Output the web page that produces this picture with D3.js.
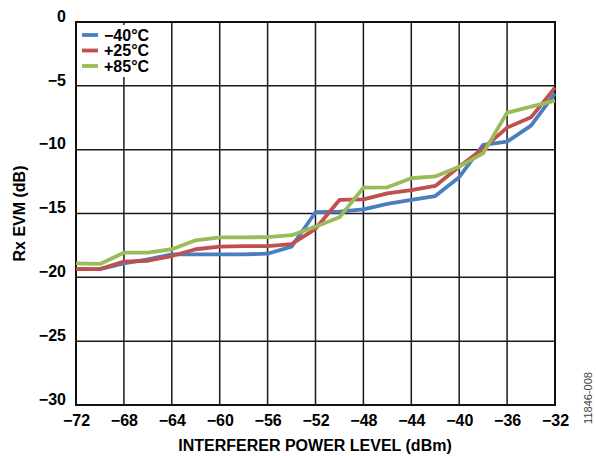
<!DOCTYPE html>
<html>
<head>
<meta charset="utf-8">
<script src="https://cdn.jsdelivr.net/npm/d3@7"></script>
<style>
  body { margin: 0; background: #fff; }
  svg text { font-family: "Liberation Sans", Arial, sans-serif; }
</style>
</head>
<body>
<svg id="chart" width="596" height="456"></svg>
<script>
// interferer power (dBm), one point every 2 dBm
const power = [-72, -70, -68, -66, -64, -62, -60, -58, -56, -54, -52, -50, -48, -46, -44, -42, -40, -38, -36, -34, -32];
const evmMinus40 = [-19.35, -19.35, -18.9, -18.6, -18.2, -18.2, -18.2, -18.2, -18.15, -17.6, -14.9, -14.85, -14.67, -14.25, -13.94, -13.63, -12.16, -9.63, -9.37, -8.12, -5.59];
const evmPlus25 = [-19.35, -19.35, -18.77, -18.7, -18.33, -17.8, -17.6, -17.55, -17.55, -17.4, -16.2, -13.94, -13.9, -13.42, -13.16, -12.84, -11.33, -9.9, -8.27, -7.47, -5.14];
const evmPlus85 = [-18.9, -18.95, -18.07, -18.07, -17.8, -17.1, -16.87, -16.87, -16.85, -16.7, -16.03, -15.3, -12.97, -12.95, -12.24, -12.1, -11.33, -10.28, -7.1, -6.63, -6.16];

const seriesNames = ["\u221240\u00b0C", "+25\u00b0C", "+85\u00b0C"];
const seriesColors = ["#4a7ebf", "#c0504d", "#9bbb59"];
const xTicks = [-72, -68, -64, -60, -56, -52, -48, -44, -40, -36, -32];
const yTicks = [0, -5, -10, -15, -20, -25, -30];

const series = [evmMinus40, evmPlus25, evmPlus85].map((vals, i) => ({
  name: seriesNames[i],
  color: seriesColors[i],
  values: vals.map((v, j) => ({x: power[j], y: v}))
}));

const svg = d3.select("#chart");
const margin = {top: 22, right: 41, bottom: 51, left: 76};
const width = +svg.attr("width") - margin.left - margin.right,
  height = +svg.attr("height") - margin.top - margin.bottom;

const x = d3.scaleLinear().domain([-72, -32]).range([0, width]);
const y = d3.scaleLinear().domain([-30, 0]).range([height, 0]);

const fmt = d => (d < 0 ? "\u2212" + Math.abs(d) : String(d));

const g = svg.append("g").attr("transform", `translate(${margin.left},${margin.top})`);

// grid
g.append("g")
  .selectAll("line")
  .data(xTicks)
  .join("line")
  .attr("x1", d => x(d)).attr("x2", d => x(d))
  .attr("y1", 0).attr("y2", height)
  .attr("stroke", "#1a1a1a").attr("stroke-width", 1.5);
g.append("g")
  .selectAll("line")
  .data(yTicks)
  .join("line")
  .attr("x1", 0).attr("x2", width)
  .attr("y1", d => y(d)).attr("y2", d => y(d))
  .attr("stroke", "#1a1a1a").attr("stroke-width", 1.5);

g.append("rect")
  .attr("width", width).attr("height", height)
  .attr("fill", "none").attr("stroke", "#111").attr("stroke-width", 2);

// axes labels
const xAxis = g.append("g")
  .attr("transform", `translate(0,${height})`)
  .call(d3.axisBottom(x).tickValues(xTicks).tickSize(0).tickPadding(10).tickFormat(fmt));
xAxis.select(".domain").remove();
xAxis.selectAll("text")
  .attr("font-size", 16).attr("font-weight", "bold").attr("fill", "#000");

const yAxis = g.append("g")
  .call(d3.axisLeft(y).tickValues(yTicks).tickSize(0).tickPadding(10).tickFormat(fmt));
yAxis.select(".domain").remove();
yAxis.selectAll("text")
  .attr("font-size", 16).attr("font-weight", "bold").attr("fill", "#000")
  .attr("dy", "-0.05em");

// lines
const line = d3.line().x(d => x(d.x)).y(d => y(d.y));
g.append("g")
  .selectAll("path")
  .data(series)
  .join("path")
  .attr("d", d => line(d.values))
  .attr("fill", "none")
  .attr("stroke", d => d.color)
  .attr("stroke-width", 3.8)
  .attr("stroke-linejoin", "round");

// legend
const legend = g.append("g").attr("transform", "translate(2,3)");
legend.append("rect")
  .attr("width", 74).attr("height", 52)
  .attr("fill", "#fff");
const item = legend.selectAll("g")
  .data(series)
  .join("g")
  .attr("transform", (d, i) => `translate(0,${10 + i * 15.5})`);
item.append("line")
  .attr("x1", 4).attr("x2", 20)
  .attr("stroke", d => d.color).attr("stroke-width", 3.8);
item.append("text")
  .attr("x", 26).attr("dy", "0.36em")
  .attr("font-size", 16).attr("font-weight", "bold")
  .text(d => d.name);

// titles
svg.append("text")
  .attr("x", 315).attr("y", 451)
  .attr("text-anchor", "middle")
  .attr("font-size", 16).attr("font-weight", "bold")
  .text("INTERFERER POWER LEVEL (dBm)");

svg.append("text")
  .attr("transform", `translate(25,${margin.top + height / 2}) rotate(-90)`)
  .attr("text-anchor", "middle")
  .attr("font-size", 16).attr("font-weight", "bold")
  .text("Rx EVM (dB)");

svg.append("text")
  .attr("transform", "translate(592,398) rotate(-90)")
  .attr("text-anchor", "middle")
  .attr("font-size", 11).attr("fill", "#444")
  .text("11846-008");
</script>
</body>
</html>
